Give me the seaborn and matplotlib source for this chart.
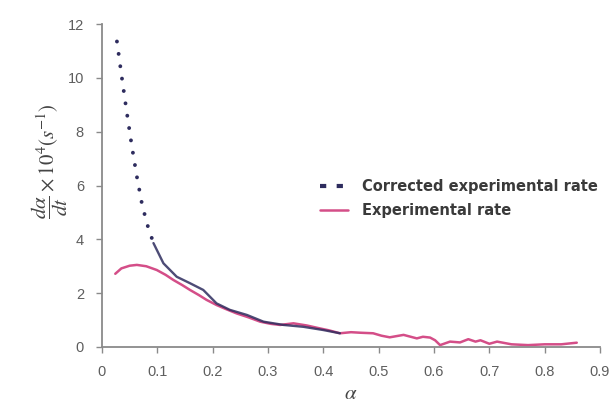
import matplotlib
matplotlib.use("Agg")
import matplotlib.pyplot as plt
import seaborn as sns
import pandas as pd
from matplotlib.lines import Line2D

# ---- data ----
cor_alpha = [0.027, 0.036, 0.045, 0.054, 0.063, 0.072, 0.081, 0.093, 0.111, 0.135,
             0.159, 0.183, 0.207, 0.231, 0.262, 0.292, 0.328, 0.364, 0.40, 0.43]
cor_rate = [11.35, 9.99, 8.69, 7.45, 6.33, 5.34, 4.60, 3.86, 3.11, 2.61,
            2.37, 2.12, 1.62, 1.38, 1.19, 0.94, 0.82, 0.75, 0.63, 0.51]

exp_alpha = [0.024, 0.035, 0.05, 0.063, 0.08, 0.099, 0.115, 0.129, 0.145, 0.159,
             0.175, 0.189, 0.207, 0.225, 0.243, 0.265, 0.286, 0.305, 0.322, 0.346,
             0.37, 0.394, 0.41, 0.43, 0.45, 0.467, 0.49, 0.505, 0.52, 0.545,
             0.569, 0.58, 0.593, 0.602, 0.611, 0.629, 0.647, 0.662, 0.675, 0.684,
             0.70, 0.714, 0.74, 0.77, 0.80, 0.83, 0.858]
exp_rate = [2.72, 2.92, 3.02, 3.05, 3.0, 2.86, 2.68, 2.49, 2.3, 2.12,
            1.93, 1.75, 1.56, 1.4, 1.25, 1.1, 0.94, 0.86, 0.82, 0.88,
            0.8, 0.69, 0.62, 0.51, 0.55, 0.53, 0.51, 0.42, 0.36, 0.45,
            0.32, 0.38, 0.35, 0.25, 0.07, 0.20, 0.17, 0.29, 0.2, 0.25,
            0.12, 0.2, 0.1, 0.07, 0.1, 0.1, 0.16]

x_ticks = [0, 0.1, 0.2, 0.3, 0.4, 0.5, 0.6, 0.7, 0.8, 0.9]
y_ticks = [0, 2, 4, 6, 8, 10, 12]
labels = ["Corrected experimental rate", "Experimental rate"]

NAVY = "#2e2c5e"
PINK = "#d44e88"
GREY = "#8a8a8a"

sns.set_theme(style="white")
plt.rcParams["font.family"] = ["Liberation Sans", "DejaVu Sans"]
plt.rcParams["mathtext.fontset"] = "stix"

fig = plt.figure(figsize=(6.12, 4.09), dpi=100)
ax = fig.add_axes([102 / 612, 62 / 409, 498 / 612, 323 / 409])

exp_df = pd.DataFrame({"alpha": exp_alpha, "rate": exp_rate})
cor_df = pd.DataFrame({"alpha": cor_alpha, "rate": cor_rate})

sns.lineplot(data=exp_df, x="alpha", y="rate", ax=ax, color=PINK, lw=1.8,
             sort=False, estimator=None, legend=False)
# steep part: dotted, flat part: solid (dots merge in the reference)
steep = cor_df.iloc[:8]
flat = cor_df.iloc[7:]
sns.lineplot(data=steep, x="alpha", y="rate", ax=ax, color=NAVY, lw=2.8,
             linestyle=(0, (0.01, 3.2)), dash_capstyle="round",
             sort=False, estimator=None, legend=False)
sns.lineplot(data=flat, x="alpha", y="rate", ax=ax, color=NAVY, lw=1.7, alpha=0.85,
             sort=False, estimator=None, legend=False)

ax.set_xlim(0, 0.9)
ax.set_ylim(0, 12)
ax.set_xticks(x_ticks)
ax.set_xticklabels([f"{t:g}" for t in x_ticks])
ax.set_yticks(y_ticks)
ax.set_yticklabels([str(t) for t in y_ticks])

for s in ["top", "right"]:
    ax.spines[s].set_visible(False)
for s in ["left", "bottom"]:
    ax.spines[s].set_color(GREY)
    ax.spines[s].set_linewidth(1.3)
ax.tick_params(axis="both", which="major", direction="out", length=4, width=1,
               color=GREY, labelcolor="#5e5e5e", labelsize=10.5,
               bottom=True, left=True)
ax.tick_params(axis="x", pad=9)
ax.tick_params(axis="y", pad=9)
ax.grid(False)

ax.set_xlabel(r"$\alpha$", fontsize=15, color="#444444")
ax.xaxis.set_label_coords(0.5, -0.115)
ax.set_ylabel(r"$\dfrac{d\alpha}{dt}\times10^4(s^{-1})$", fontsize=15, color="#444444")
ax.yaxis.set_label_coords(-0.064, 0.575)

handles = [
    Line2D([0], [0], color=NAVY, lw=3, linestyle=(0, (1.5, 2.5)), dash_capstyle="butt"),
    Line2D([0], [0], color=PINK, lw=1.8),
]
leg = ax.legend(handles, labels, loc="center left", bbox_to_anchor=(0.438, 0.46),
                frameon=False, borderpad=0, borderaxespad=0,
                prop={"family": "DejaVu Sans", "weight": "bold", "size": 10.5},
                handlelength=1.9, handletextpad=1.0, labelspacing=0.6)
for t in leg.get_texts():
    t.set_color("#3a3a3a")

fig.savefig("out.png", dpi=100)
